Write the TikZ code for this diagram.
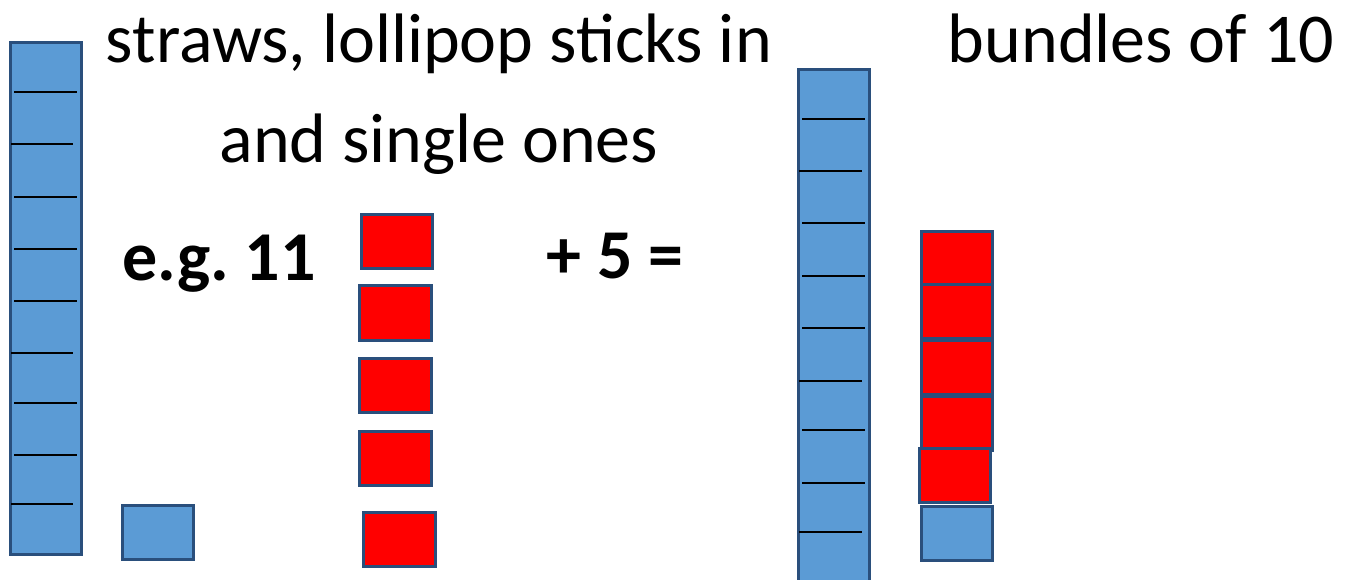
\documentclass[tikz,border=0pt]{standalone}
\usepackage{fontspec}
\setmainfont{Carlito}
\definecolor{strawblue}{HTML}{5B9BD5}
\definecolor{edgeblue}{HTML}{2A4F7C}
\definecolor{onesred}{HTML}{FF0000}

\begin{document}
\begin{tikzpicture}[x=1pt, y=-1pt,
    blueunit/.style={draw=edgeblue, fill=strawblue, line width=3pt},
    redunit/.style={draw=edgeblue, fill=onesred, line width=3pt},
    sepline/.style={black, line width=1.4pt},
    words/.style={font=\fontsize{70}{84}\selectfont, inner sep=0pt, anchor=base}]
    \useasboundingbox (0,0) rectangle (1352,579);

    % the text
    \node[words] (title) at (439,62) {straws, lollipop sticks in};
    \node[words] (tens) at (1141,62) {bundles of 10};
    \node[words] (ones) at (439,162) {and single ones};
    \node[words, font=\fontsize{70}{84}\selectfont\bfseries] (eleven) at (219,280) {e.g.\ 11};
    \node[words, font=\fontsize{70}{84}\selectfont\bfseries] (plusfive) at (615,278) {+ 5 =};

    % 11 = one bundle and one single
    \draw[blueunit] (10,42) rectangle (81,554);
    \foreach \y/\a/\b in {92/14/77, 144/11/73, 197/14/77, 249/14/77, 301/14/77,
                          353/11/73, 403/14/77, 455/14/77, 504/11/73}
        \draw[sepline] (\a,\y) -- (\b,\y);
    \draw[blueunit] (122,505) rectangle (193,559);

    % the five to add
    \foreach \xa/\ya/\xb/\yb in {361/214/432/268, 359/285/431/340, 359/358/431/412,
                                 359/431/431/485, 363/512/435/566}
        \draw[redunit] (\xa,\ya) rectangle (\xb,\yb);

    % answer: one bundle and six singles
    \draw[blueunit] (798,69) rectangle (869,590);
    \foreach \y/\a/\b in {119/802/865, 171/799/862, 223/802/865, 276/802/865, 328/802/865,
                          381/799/862, 430/802/865, 483/802/865, 532/799/862}
        \draw[sepline] (\a,\y) -- (\b,\y);
    \foreach \ya/\yb in {231/284, 284/338, 340/394, 396/450}
        \draw[redunit] (921,\ya) rectangle (992,\yb);
    \draw[redunit] (919,448) rectangle (990,502);
    \draw[blueunit] (921,506) rectangle (992,560);
\end{tikzpicture}
\end{document}
